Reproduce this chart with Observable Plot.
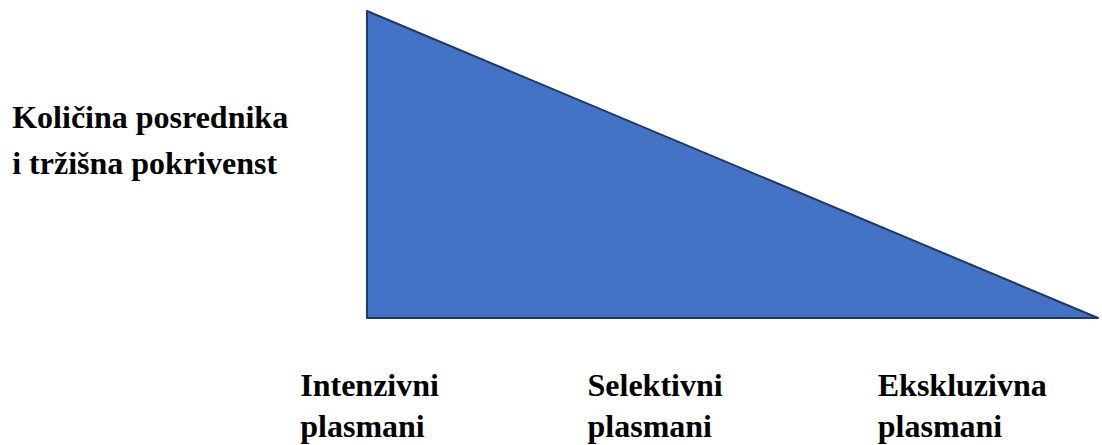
<!DOCTYPE html>
<html>
<head>
<meta charset="utf-8">
<script src="https://cdn.jsdelivr.net/npm/d3@7"></script>
<script src="https://cdn.jsdelivr.net/npm/@observablehq/plot@0.6"></script>
<style>
  html, body { margin: 0; padding: 0; background: #ffffff; }
</style>
</head>
<body>
<div id="chart"></div>
<script>
// Triangle: coverage declines from intensive to exclusive distribution
const shapeX = [0, 1];
const shapeY = [1, 0];

// Bottom stage labels (two lines each) and their horizontal positions (x data units)
const stageLine1 = ["Intenzivni", "Selektivni", "Ekskluzivna"];
const stageLine2 = ["plasmani", "plasmani", "plasmani"];
const stageX = [-0.092, 0.301, 0.698];

// Left label (two lines)
const sideLine1 = ["Količina posrednika"];
const sideLine2 = ["i tržišna pokrivenst"];
const sideX = [-0.486];

const shape = shapeX.map((x, i) => ({x, y: shapeY[i]}));
const rows = (texts, xs) => texts.map((t, i) => ({t, x: xs[i]}));

const textStyle = {fontSize: 32, fontWeight: "bold", fill: "#000", fontFamily: "Liberation Serif", textAnchor: "start", lineAnchor: "bottom"};

const chart = Plot.plot({
  width: 1102,
  height: 445,
  marginLeft: 367,
  marginRight: 4,
  marginTop: 11,
  marginBottom: 127,
  x: {domain: [0, 1], axis: null},
  y: {domain: [0, 1], axis: null},
  style: {background: "#ffffff", overflow: "visible", fontFamily: "Liberation Serif"},
  marks: [
    Plot.areaY(shape, {x: "x", y1: 0, y2: "y", fill: "#4472C4", stroke: "#203864", strokeWidth: 2, curve: "linear"}),
    Plot.text(rows(stageLine1, stageX), {x: "x", text: "t", frameAnchor: "bottom", dy: 77, ...textStyle}),
    Plot.text(rows(stageLine2, stageX), {x: "x", text: "t", frameAnchor: "bottom", dy: 118, ...textStyle}),
    Plot.text(rows(sideLine1, sideX), {x: "x", text: "t", frameAnchor: "left", dy: -37.5, ...textStyle}),
    Plot.text(rows(sideLine2, sideX), {x: "x", text: "t", frameAnchor: "left", dy: 8.5, ...textStyle})
  ]
});
document.getElementById("chart").appendChild(chart);
</script>
</body>
</html>
